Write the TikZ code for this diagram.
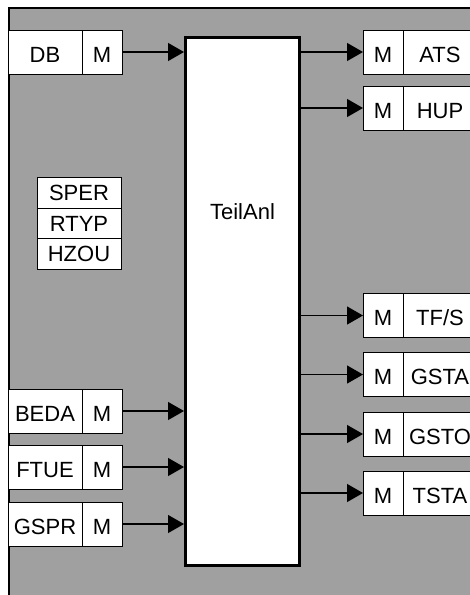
\documentclass[tikz,border=0pt]{standalone}
\usepackage{fontspec}
\setmainfont{Liberation Sans}
\usetikzlibrary{positioning,arrows.meta}

\definecolor{fondo}{RGB}{160,160,160}

\begin{document}
\begin{tikzpicture}[x=1pt, y=-1pt,
    every node/.style={font=\fontsize{22}{26}\selectfont},
    celda/.style={draw, fill=white, line width=1pt, inner sep=0pt, outer sep=0pt,
        minimum height=44pt, text height=20pt, text depth=0pt},
    nombre/.style={celda, minimum width=74pt},
    marca/.style={celda, minimum width=40pt},
    param/.style={draw, fill=white, line width=1pt, inner sep=0pt, outer sep=0pt,
        minimum width=84pt, minimum height=30.5pt},
    flujo/.style={-{Triangle[length=16pt, width=18pt]}, line width=1.2pt}]

\useasboundingbox (0,0) rectangle (470,595);
\clip (0,0) rectangle (470,595);

% =============================================
% Fondo gris con borde
% =============================================
\fill[fondo] (8.8,7.8) rectangle (490,610);
\draw[line width=2pt] (8.8,610) -- (8.8,7.8) -- (490,7.8);

% =============================================
% Bloque central
% =============================================
\node[draw, fill=white, line width=3pt, minimum width=114pt, minimum height=528pt]
    (teil) at (242.5,301.5) {};
\node (teiltxt) at (242.5,212) {TeilAnl};

% =============================================
% Entradas (izquierda)
% =============================================
\node[nombre] (db) at (45,52) {DB};
\node[marca, right=0pt of db] (dbm) {M};

\node[nombre] (beda) at (45,411) {BEDA};
\node[marca, right=0pt of beda] (bedam) {M};

\node[nombre] (ftue) at (45,467) {FTUE};
\node[marca, right=0pt of ftue] (ftuem) {M};

\node[nombre] (gspr) at (45,524) {GSPR};
\node[marca, right=0pt of gspr] (gsprm) {M};

\foreach \m in {dbm,bedam,ftuem,gsprm}
    \draw[flujo] (\m.east) -- (\m.east -| teil.west);

% Parámetros
\node[param] (sper) at (79,193) {SPER};
\node[param, below=0pt of sper] (rtyp) {RTYP};
\node[param, below=0pt of rtyp] (hzou) {HZOU};

% =============================================
% Salidas (derecha)
% =============================================
\node[marca] (atsm) at (383,52) {M};
\node[nombre, right=0pt of atsm] (ats) {ATS};

\node[marca] (hupm) at (383,108) {M};
\node[nombre, right=0pt of hupm] (hup) {HUP};

\node[marca] (tfsm) at (383,315.5) {M};
\node[nombre, right=0pt of tfsm] (tfs) {TF/S};

\node[marca] (gstam) at (383,374.5) {M};
\node[nombre, right=0pt of gstam] (gsta) {GSTA};

\node[marca] (gstom) at (383,434) {M};
\node[nombre, right=0pt of gstom] (gsto) {GSTO};

\node[marca] (tstam) at (383,493) {M};
\node[nombre, right=0pt of tstam] (tsta) {TSTA};

\foreach \m in {atsm,hupm,tfsm,gstam,gstom,tstam}
    \draw[flujo] (teil.east |- \m.west) -- (\m.west);

\end{tikzpicture}
\end{document}
